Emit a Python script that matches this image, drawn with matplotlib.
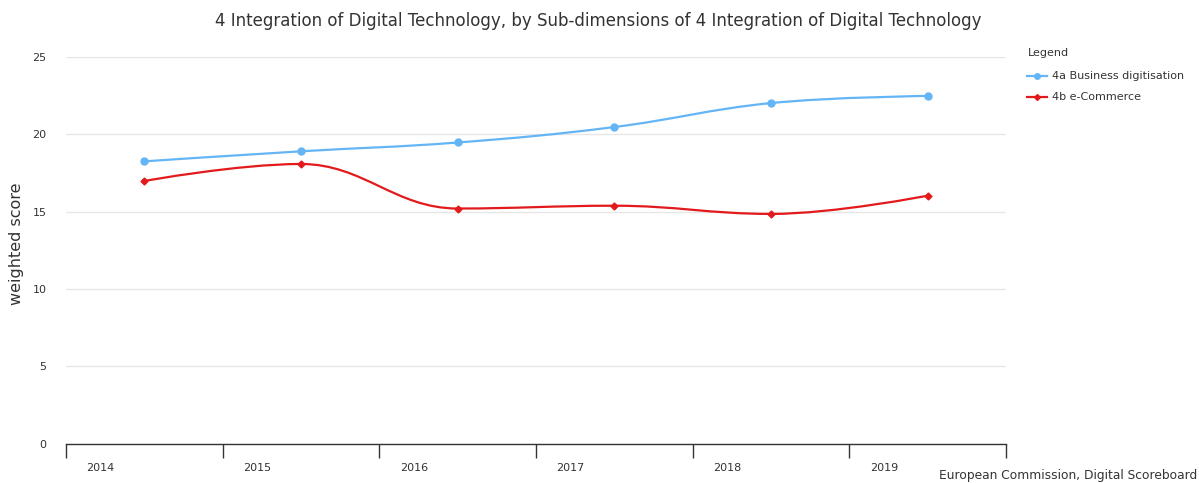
import matplotlib
matplotlib.use("Agg")
import matplotlib.pyplot as plt
from matplotlib.path import Path
from matplotlib.patches import PathPatch
from matplotlib.lines import Line2D

years = ["2014", "2015", "2016", "2017", "2018", "2019"]
business_digitisation = [18.25, 18.9, 19.47, 20.47, 22.02, 22.48]
e_commerce = [16.98, 18.08, 15.2, 15.38, 14.85, 16.03]

title = "4 Integration of Digital Technology, by Sub-dimensions of 4 Integration of Digital Technology"
ylabel = "weighted score"
credit = "European Commission, Digital Scoreboard"
series_names = ["4a Business digitisation", "4b e-Commerce"]
colors = ["#64b5f6", "#e31a1c"]

plt.rcParams['font.family'] = ['DejaVu Sans']

fig = plt.figure(figsize=(11.99, 4.83), dpi=100)
W, H = 1199, 483
ax = fig.add_axes([66 / W, 1 - 443.5 / H, (1006 - 66) / W, (443.5 - 57) / H])


def spline_path(xs, ys, ax):
    # Highcharts-like spline in display coordinates (smoothing 1.5)
    trans = ax.transData
    pts = trans.transform(list(zip(xs, ys)))
    n = len(pts)
    left = [None] * n
    right = [None] * n
    sm = 1.5
    den = sm + 1
    for i in range(n):
        px, py = pts[i]
        if i == 0 or i == n - 1:
            left[i] = (px, py)
            right[i] = (px, py)
            continue
        lx, ly = pts[i - 1]
        nx, ny = pts[i + 1]
        lcx = (sm * px + lx) / den
        lcy = (sm * py + ly) / den
        rcx = (sm * px + nx) / den
        rcy = (sm * py + ny) / den
        if rcx != lcx:
            corr = ((rcy - lcy) * (rcx - px)) / (rcx - lcx) + py - rcy
            lcy += corr
            rcy += corr
        if lcy > ly and lcy > py:
            lcy = max(ly, py)
            rcy = 2 * py - lcy
        elif lcy < ly and lcy < py:
            lcy = min(ly, py)
            rcy = 2 * py - lcy
        if rcy > ny and rcy > py:
            rcy = max(ny, py)
            lcy = 2 * py - rcy
        elif rcy < ny and rcy < py:
            rcy = min(ny, py)
            lcy = 2 * py - rcy
        left[i] = (lcx, lcy)
        right[i] = (rcx, rcy)
    verts = [tuple(pts[0])]
    codes = [Path.MOVETO]
    for i in range(1, n):
        verts += [right[i - 1], left[i], tuple(pts[i])]
        codes += [Path.CURVE4] * 3
    inv = trans.inverted()
    verts = inv.transform(verts)
    return Path(verts, codes)


xpos = list(range(len(years)))
ax.set_xlim(-0.5, len(years) - 0.5)
ax.set_ylim(0, 25)

for vals, col, mk, ms in [(business_digitisation, colors[0], 'o', 5),
                          (e_commerce, colors[1], 'D', 3.5)]:
    p = spline_path(xpos, vals, ax)
    ax.add_patch(PathPatch(p, facecolor='none', edgecolor=col, lw=1.6, zorder=3))
    ax.plot(xpos, vals, linestyle='none', marker=mk, ms=ms, color=col, zorder=4)

ax.set_yticks([0, 5, 10, 15, 20, 25])
ax.yaxis.grid(True, color='#e6e6e6', lw=1)
ax.set_axisbelow(True)
ax.tick_params(axis='y', length=0, labelsize=8, colors='#333333', pad=14)
for s in ['top', 'right', 'left']:
    ax.spines[s].set_visible(False)
ax.spines['bottom'].set_color('#333333')
ax.spines['bottom'].set_linewidth(1)

ax.set_xticks([i - 0.5 for i in range(len(years) + 1)])
ax.set_xticklabels([])
ax.tick_params(axis='x', length=10, width=1, colors='#333333', direction='out')
for i, yr in enumerate(years):
    ax.text(i - 0.28, -0.05, yr, transform=ax.get_xaxis_transform(),
            ha='center', va='top', fontsize=8, color='#333333')

ax.set_ylabel(ylabel, fontsize=11.5, color='#333333')
ax.yaxis.set_label_coords((24 - 66) / 940, 0.517)

fig.text(598 / W, 1 - 21 / H, title, ha='center', va='center', fontsize=12, color='#333333')
fig.text(1197 / W, 1 - 476 / H, credit, ha='right', va='center', fontsize=8.8, color='#333333')

fig.text(1028 / W, 1 - 53 / H, "Legend", ha='left', va='center', fontsize=8, color='#333333')
for j, (name, col, mk, ms) in enumerate([(series_names[0], colors[0], 'o', 4),
                                         (series_names[1], colors[1], 'D', 3)]):
    yy = 1 - (76 + j * 21) / H
    fig.add_artist(Line2D([1027 / W, 1047 / W], [yy, yy], transform=fig.transFigure,
                          color=col, lw=1.6, marker=None))
    fig.add_artist(Line2D([1037 / W], [yy], transform=fig.transFigure,
                          color=col, marker=mk, ms=ms, linestyle='none'))
    fig.text(1052 / W, yy, name, ha='left', va='center', fontsize=8, color='#333333')

fig.savefig("out.png", dpi=100)
